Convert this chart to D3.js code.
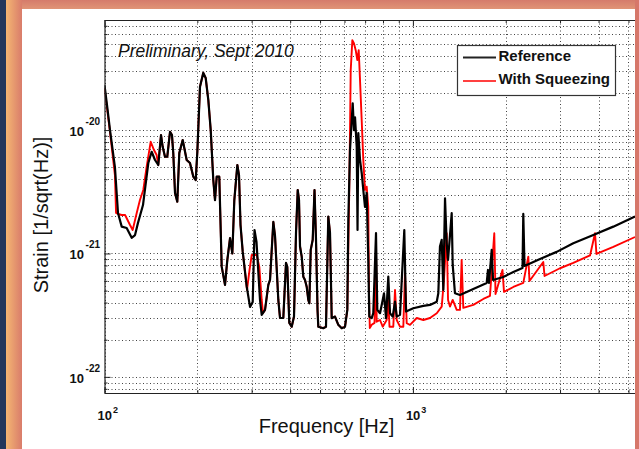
<!DOCTYPE html>
<html>
<head>
<meta charset="utf-8">
<script src="https://cdn.jsdelivr.net/npm/d3@7"></script>
<style>
  body { margin: 0; background: #fff; }
  svg { display: block; }
  text { font-family: "Liberation Sans", Arial, sans-serif; }
</style>
</head>
<body>
<div id="chart"></div>
<script>

// strain values below are in units of 1e-22 / sqrt(Hz)
const UNIT = 1e-22;

const refFreq = [100, 101.9, 104.2, 108.1, 110.6, 113.7, 118.0, 122.5, 125.6, 128.4,
  133.3, 138.7, 142.2, 145.8, 149.4, 152.5, 154.4, 157.1, 159.8, 163.1,
  165.5, 167.1, 169.3, 172.2, 174.8, 179.3, 184.7, 189.3, 194.1, 197.6,
  200.0, 204.0, 209.1, 212.9, 217.1, 221.0, 225.3, 228.2, 231.1, 235.6,
  239.9, 245.9, 250.2, 255.3, 259.7, 263.6, 269.6, 273.0, 276.1, 280.7,
  289.2, 296.4, 302.4, 306.5, 311.1, 319.3, 323.4, 331.5, 339.8, 344.1,
  352.7, 357.2, 366.1, 370.8, 380.0, 387.7, 391.5, 397.4, 404.6, 411.6,
  417.8, 423.2, 427.3, 430.5, 436.0, 441.2, 446.8, 452.5, 458.0, 461.5,
  466.3, 473.3, 479.7, 485.1, 490.6, 493.5, 512.2, 522.6, 531.7, 538.5,
  545.4, 559.0, 573.0, 587.7, 602.4, 612.8, 617.4, 625.2, 633.3, 638.0,
  644.2, 649.2, 657.4, 661.4, 665.3, 673.8, 682.3, 690.5, 699.3, 708.2,
  716.7, 722.0, 735.1, 744.0, 759.2, 766.6, 782.3, 798.2, 806.0, 818.1,
  832.2, 843.0, 860.0, 875.0, 886.1, 908.3, 937.8, 949.8, 1003, 1081,
  1136, 1195, 1209, 1224, 1240, 1255, 1271, 1287, 1300, 1319,
  1336, 1346, 1369, 1421, 1570, 1651, 1735, 1752, 1765, 1801,
  1819, 1964, 2117, 2267, 2280, 2301, 2583, 2926, 3312, 3846,
  4465, 5251];
const refStrain = [231, 159, 100, 50.1, 21.3, 16.5, 16.1, 13.4, 14.1, 17.7,
  24.7, 54.1, 66.7, 57.2, 52.1, 91.1, 73.2, 60.8, 60.8, 96.9,
  91.1, 65.1, 30.9, 26.3, 65.1, 83.0, 57.2, 54.1, 41.9, 39.4,
  66.7, 224, 291, 264, 175, 100, 39.4, 27.1, 41.9, 41.9,
  7.82, 5.56, 8.86, 13.3, 10.0, 27.1, 52.1, 43.2, 17.0, 10.3,
  5.38, 3.69, 4.05, 15.5, 12.4, 4.20, 3.18, 3.49, 5.56, 6.10,
  18.0, 13.9, 4.20, 3.00, 3.00, 8.38, 7.78, 2.74, 2.55, 3.08,
  14.7, 32.7, 27.1, 11.4, 9.42, 6.49, 6.10, 5.38, 4.20, 3.95,
  10.7, 12.9, 32.7, 12.9, 3.49, 2.55, 2.48, 2.55, 19.9, 14.7,
  2.99, 3.08, 2.64, 2.48, 2.55, 3.49, 18.7, 68.9, 120, 165,
  100, 127, 72.8, 15.5, 94.6, 57.2, 44.9, 32.7, 23.8, 30.9,
  8.86, 3.08, 2.99, 3.28, 14.6, 3.49, 3.28, 4.20, 4.76, 2.99,
  6.49, 3.28, 3.08, 4.07, 3.08, 3.18, 15.5, 3.38, 3.60, 3.76,
  3.83, 4.07, 4.76, 11.4, 12.9, 5.06, 28.0, 12.1, 8.86, 14.1,
  21.2, 8.07, 4.76, 4.61, 5.16, 5.45, 5.77, 7.35, 5.77, 10.7,
  6.10, 6.45, 7.08, 7.63, 20.9, 7.92, 9.03, 10.3, 12.1, 14.1,
  16.5, 19.9];

const sqzFreq = [100, 101.9, 104.2, 108.1, 109.0, 110.6, 113.7, 116.6, 121.0, 123.4,
  127.2, 130.3, 133.6, 137.0, 141.2, 144.7, 147.6, 149.4, 152.5, 154.4,
  157.1, 159.8, 163.1, 165.5, 167.1, 169.3, 172.2, 174.8, 179.3, 184.7,
  189.3, 194.1, 197.6, 200.0, 204.0, 209.1, 212.9, 217.1, 221.0, 225.3,
  228.2, 231.1, 235.6, 239.9, 245.9, 250.2, 255.3, 259.7, 263.6, 269.6,
  273.0, 276.1, 280.7, 289.8, 295.3, 300.2, 311.6, 317.7, 323.4, 326.6,
  331.5, 339.8, 344.1, 352.7, 357.2, 366.1, 370.8, 380.0, 387.7, 391.5,
  397.4, 404.6, 411.6, 417.8, 423.2, 427.3, 430.5, 436.0, 441.2, 446.8,
  452.5, 458.0, 461.5, 466.3, 473.3, 479.7, 485.1, 490.6, 493.5, 512.2,
  522.6, 531.7, 538.5, 545.4, 559.0, 573.0, 587.7, 602.4, 612.8, 622.1,
  628.6, 636.2, 644.2, 652.4, 660.3, 667.3, 673.8, 682.3, 690.5, 699.3,
  708.2, 716.7, 720.5, 724.8, 735.1, 750.9, 759.2, 763.0, 782.3, 798.2,
  822.2, 832.2, 839.7, 863.8, 875.0, 886.1, 908.3, 931.0, 942.8, 954.8,
  978.6, 1029, 1081, 1136, 1195, 1240, 1261, 1287, 1300, 1319,
  1346, 1387, 1421, 1439, 1457, 1570, 1692, 1778, 1836, 1853,
  1952, 1974, 2117, 2280, 2367, 2388, 2647, 2672, 2999, 3312,
  3753, 3895, 3937, 4465, 5251];
const sqzStrain = [219, 151, 96.3, 43.2, 21.3, 20.9, 20.5, 20.5, 17.0, 15.5,
  21.3, 27.1, 32.7, 50.5, 80.4, 68.9, 62.8, 52.1, 91.1, 73.2,
  60.8, 60.8, 96.9, 91.1, 65.1, 30.9, 26.3, 65.1, 83.0, 57.2,
  54.1, 41.9, 39.4, 66.7, 224, 291, 264, 175, 100, 39.4,
  27.1, 41.9, 41.9, 7.82, 5.56, 8.86, 13.3, 10.0, 27.1, 52.1,
  43.2, 17.0, 10.3, 5.06, 7.35, 9.72, 9.72, 7.78, 4.20, 3.30,
  3.49, 5.56, 6.10, 18.0, 13.9, 4.20, 3.00, 3.00, 8.38, 7.78,
  2.74, 2.55, 3.08, 14.7, 32.7, 27.1, 11.4, 9.42, 6.49, 6.10,
  5.38, 4.20, 3.95, 10.7, 12.9, 32.7, 12.9, 3.49, 2.55, 2.48,
  2.55, 19.9, 14.7, 2.99, 3.08, 2.64, 2.48, 2.55, 3.49, 34.8,
  306, 535, 504, 444, 369, 444, 254, 120, 57.2, 32.7,
  34.8, 23.9, 5.06, 2.49, 2.64, 2.74, 10.7, 2.80, 2.89, 2.55,
  2.89, 4.20, 2.55, 2.55, 5.06, 2.89, 2.55, 2.55, 6.95, 2.72,
  2.64, 3.00, 2.89, 3.00, 3.28, 3.71, 6.10, 14.6, 4.20, 3.71,
  4.20, 3.49, 3.49, 8.86, 3.62, 3.83, 4.28, 4.53, 14.6, 4.70,
  7.35, 4.88, 5.35, 5.77, 9.42, 5.99, 8.53, 6.57, 7.59, 8.38,
  9.63, 14.6, 9.91, 11.3, 13.6];

const seriesNames = ["Reference", "With Squeezing"];
const seriesColors = ["#000000", "#ff0000"];
const xMajor = [100, 1000];
const yMajor = [1e-22, 1e-21, 1e-20];

const width = 639, height = 449;
const margin = { left: 104.5, top: 20, bottom: 393 };

const svg = d3.select("#chart").append("svg")
  .attr("width", width)
  .attr("height", height);

// background frame
svg.append("rect").attr("width", width).attr("height", height).attr("fill", "#d8806d");
const defs = svg.append("defs");
const gl = defs.append("linearGradient").attr("id", "leftGrad");
gl.append("stop").attr("offset", "0%").attr("stop-color", "#f4b672");
gl.append("stop").attr("offset", "100%").attr("stop-color", "#d97c6b");
const gt = defs.append("linearGradient").attr("id", "topGrad")
  .attr("x1", 0).attr("y1", 0).attr("x2", 0).attr("y2", 1);
gt.append("stop").attr("offset", "0%").attr("stop-color", "#d57b6b");
gt.append("stop").attr("offset", "100%").attr("stop-color", "#e09476");

svg.append("rect").attr("x", 0).attr("y", 0).attr("width", width).attr("height", 9).attr("fill", "url(#topGrad)");
svg.append("rect").attr("x", 6).attr("y", 0).attr("width", 16).attr("height", height).attr("fill", "url(#leftGrad)");
svg.append("rect").attr("x", 0).attr("y", 0).attr("width", 6).attr("height", height).attr("fill", "#22375b");
svg.append("rect").attr("x", 22).attr("y", 9).attr("width", 613).attr("height", height - 9).attr("fill", "#ffffff");

const panel = svg.append("g");

const x = d3.scaleLog()
  .domain([100, 6300])
  .range([margin.left, margin.left + 308.4 * Math.log10(63)]);

const y = d3.scaleLog()
  .domain([7.4e-23, 7.8e-20])
  .range([margin.bottom, margin.top]);

const plotRight = x.range()[1];

// grid values
const xGrid = [];
for (let e = 2; e <= 3; e++) {
  for (let m = 1; m <= 9; m++) {
    const v = m * Math.pow(10, e);
    if (v >= 100 && v <= 6300) xGrid.push(v);
  }
}
const yGrid = [];
for (let e = -23; e <= -20; e++) {
  for (let m = 1; m <= 9; m++) {
    const v = m * Math.pow(10, e);
    if (v >= 7.4e-23 && v <= 7.8e-20) yGrid.push(v);
  }
}

const grid = panel.append("g")
  .attr("stroke", "#444")
  .attr("stroke-width", 1)
  .attr("stroke-dasharray", "1,2.5");

grid.selectAll(".vg").data(xGrid).enter().append("line")
  .attr("x1", d => Math.round(x(d)) + 0.5).attr("x2", d => Math.round(x(d)) + 0.5)
  .attr("y1", margin.top).attr("y2", margin.bottom);

grid.selectAll(".hg").data(yGrid).enter().append("line")
  .attr("y1", d => Math.round(y(d)) + 0.5).attr("y2", d => Math.round(y(d)) + 0.5)
  .attr("x1", margin.left).attr("x2", plotRight);

// curves
defs.append("clipPath").attr("id", "plotClip")
  .append("rect")
  .attr("x", margin.left).attr("y", margin.top)
  .attr("width", plotRight - margin.left).attr("height", margin.bottom - margin.top);

const line = d3.line()
  .x(d => x(d[0]))
  .y(d => y(d[1] * UNIT));

const refData = refFreq.map((f, i) => [f, refStrain[i]]);
const sqzData = sqzFreq.map((f, i) => [f, sqzStrain[i]]);

const curves = panel.append("g").attr("clip-path", "url(#plotClip)");

curves.append("path")
  .datum(sqzData)
  .attr("fill", "none")
  .attr("stroke", seriesColors[1])
  .attr("stroke-width", 1.9)
  .attr("stroke-linejoin", "round")
  .attr("d", line);

curves.append("path")
  .datum(refData)
  .attr("fill", "none")
  .attr("stroke", seriesColors[0])
  .attr("stroke-width", 2.2)
  .attr("stroke-linejoin", "round")
  .attr("d", line);

// axes box and ticks
const xMinor = xGrid.filter(d => !xMajor.includes(d));
const yMinor = yGrid.filter(d => !yMajor.some(m => Math.abs(m - d) / m < 1e-6));

function styleAxis(g) {
  g.select(".domain").remove();
  g.selectAll(".tick text").remove();
  g.selectAll(".tick line").attr("stroke", "#222");
}

panel.append("g").attr("transform", `translate(0,${margin.bottom})`)
  .call(d3.axisBottom(x).tickValues(xMajor).tickSize(-6)).call(styleAxis);
panel.append("g").attr("transform", `translate(0,${margin.bottom})`)
  .call(d3.axisBottom(x).tickValues(xMinor).tickSize(-3)).call(styleAxis);
panel.append("g").attr("transform", `translate(0,${margin.top})`)
  .call(d3.axisTop(x).tickValues(xMajor).tickSize(-6)).call(styleAxis);
panel.append("g").attr("transform", `translate(0,${margin.top})`)
  .call(d3.axisTop(x).tickValues(xMinor).tickSize(-3)).call(styleAxis);
panel.append("g").attr("transform", `translate(${margin.left},0)`)
  .call(d3.axisLeft(y).tickValues(yMajor).tickSize(-6)).call(styleAxis);
panel.append("g").attr("transform", `translate(${margin.left},0)`)
  .call(d3.axisLeft(y).tickValues(yMinor).tickSize(-3)).call(styleAxis);

panel.append("path")
  .attr("d", `M${plotRight},${margin.top + 0.5}H${margin.left + 0.5}V${margin.bottom + 0.5}H${plotRight}`)
  .attr("fill", "none")
  .attr("stroke", "#222")
  .attr("stroke-width", 1.2);

// tick labels
const xLab = panel.selectAll(".xlab").data(xMajor).enter().append("text")
  .attr("x", d => x(d) - 7)
  .attr("y", 420)
  .attr("fill", "#111")
  .attr("font-weight", "bold");
xLab.append("tspan").attr("font-size", 13).text("10");
xLab.append("tspan").attr("font-size", 9).attr("dx", 1).attr("dy", -7)
  .text(d => Math.round(Math.log10(d)));

const yLab = panel.selectAll(".ylab").data(yMajor).enter().append("text")
  .attr("x", 100)
  .attr("y", d => y(d) + 6)
  .attr("text-anchor", "end")
  .attr("fill", "#111")
  .attr("font-weight", "bold");
yLab.append("tspan").attr("font-size", 13).text("10");
yLab.append("tspan").attr("font-size", 10).attr("dx", 1.5).attr("dy", -11)
  .text(d => Math.round(Math.log10(d)));

// axis titles
panel.append("text")
  .attr("x", 326.5).attr("y", 433)
  .attr("text-anchor", "middle")
  .attr("font-size", 20)
  .attr("fill", "#111")
  .text("Frequency [Hz]");

panel.append("text")
  .attr("transform", "translate(48,215) rotate(-90)")
  .attr("text-anchor", "middle")
  .attr("font-size", 20)
  .attr("fill", "#111")
  .text("Strain [1/sqrt(Hz)]");

panel.append("text")
  .attr("x", 118).attr("y", 57)
  .attr("font-size", 17.5)
  .attr("font-style", "italic")
  .attr("fill", "#111")
  .text("Preliminary, Sept 2010");

// legend
const legend = panel.append("g");
legend.append("rect")
  .attr("x", 457.5).attr("y", 45.5)
  .attr("width", 158).attr("height", 50)
  .attr("fill", "#fff")
  .attr("stroke", "#333")
  .attr("stroke-width", 1.2);

const legItems = legend.selectAll(".li").data(seriesNames).enter().append("g")
  .attr("transform", (d, i) => `translate(0,${57.5 + i * 23.5})`);
legItems.append("line")
  .attr("x1", 463).attr("x2", 496)
  .attr("stroke", (d, i) => seriesColors[i] === "#000000" ? "#222" : seriesColors[i])
  .attr("stroke-width", (d, i) => i === 0 ? 2 : 1.5);
legItems.append("text")
  .attr("x", 498.5).attr("y", 3)
  .attr("font-size", 15)
  .attr("font-weight", "bold")
  .attr("fill", "#111")
  .text(d => d);

// right border on top of the clipped plot
svg.append("rect").attr("x", 635).attr("y", 0).attr("width", 4).attr("height", height).attr("fill", "#d6776a");

</script>
</body>
</html>
